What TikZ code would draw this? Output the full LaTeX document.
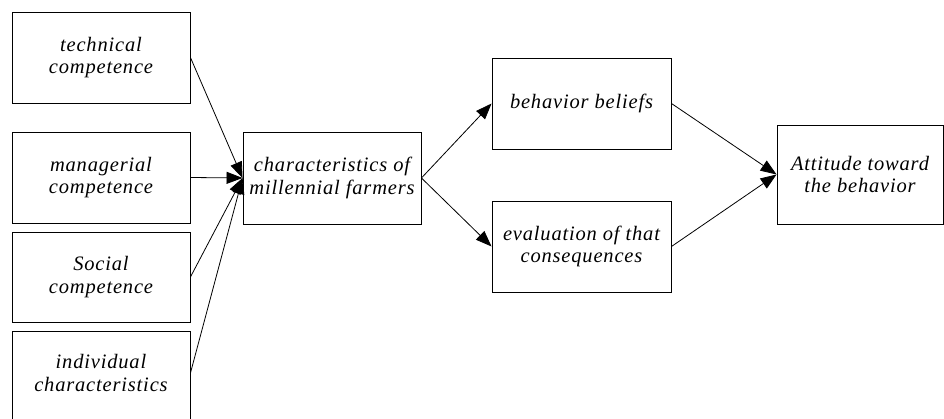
\documentclass[tikz,border=0pt]{standalone}
\usepackage{fontspec}
\setmainfont{Liberation Serif}
\newfontfamily\diagfont[LetterSpace=4]{Liberation Serif}
\usetikzlibrary{arrows.meta}
\begin{document}
\begin{tikzpicture}[x=1pt,y=-1pt,
  txt/.style={align=center, font=\diagfont\fontsize{20.5}{22.5}\selectfont\itshape},
  box/.style={txt, draw=black, line width=0.9pt, fill=white, inner sep=0pt},
  conn/.style={line width=0.8pt, -{Triangle[length=16pt,width=12pt]}}]
\useasboundingbox (0,0) rectangle (944,419);
\begin{scope}
\clip (0,0) rectangle (944,419);
\node[box, minimum width=178pt, minimum height=91pt] (tech) at (101,57.5) {technical\\competence};
\node[box, minimum width=178pt, minimum height=91pt] (man) at (101,177.5) {managerial\\competence};
\node[box, minimum width=178pt, minimum height=90pt] (soc) at (101,277) {Social\\competence};
\node[box, minimum width=178pt, minimum height=100pt] (ind) at (101,381) {};
\node[txt] (indt) at (101,373) {individual\\characteristics};
\node[box, minimum width=178pt, minimum height=92pt] (char) at (332,178) {characteristics of\\millennial farmers};
\node[box, minimum width=179pt, minimum height=91pt] (beh) at (581.5,103.5) {behavior beliefs};
\node[box, minimum width=179pt, minimum height=91pt] (eval) at (581.5,246.5) {evaluation of that\\consequences};
\node[box, minimum width=166pt, minimum height=99pt] (att) at (860,174.5) {Attitude toward\\the behavior};
\end{scope}
\coordinate (indE) at (ind.east |- indt.center);
\draw[conn] (tech.east) -- (char.west);
\draw[conn] (man.east) -- (char.west);
\draw[conn] (soc.east) -- (char.west);
\draw[conn] (indE) -- (char.west);
\draw[conn] (char.east) -- (beh.west);
\draw[conn] (char.east) -- (eval.west);
\draw[conn] (beh.east) -- (att.west);
\draw[conn] (eval.east) -- (att.west);
\end{tikzpicture}
\end{document}
